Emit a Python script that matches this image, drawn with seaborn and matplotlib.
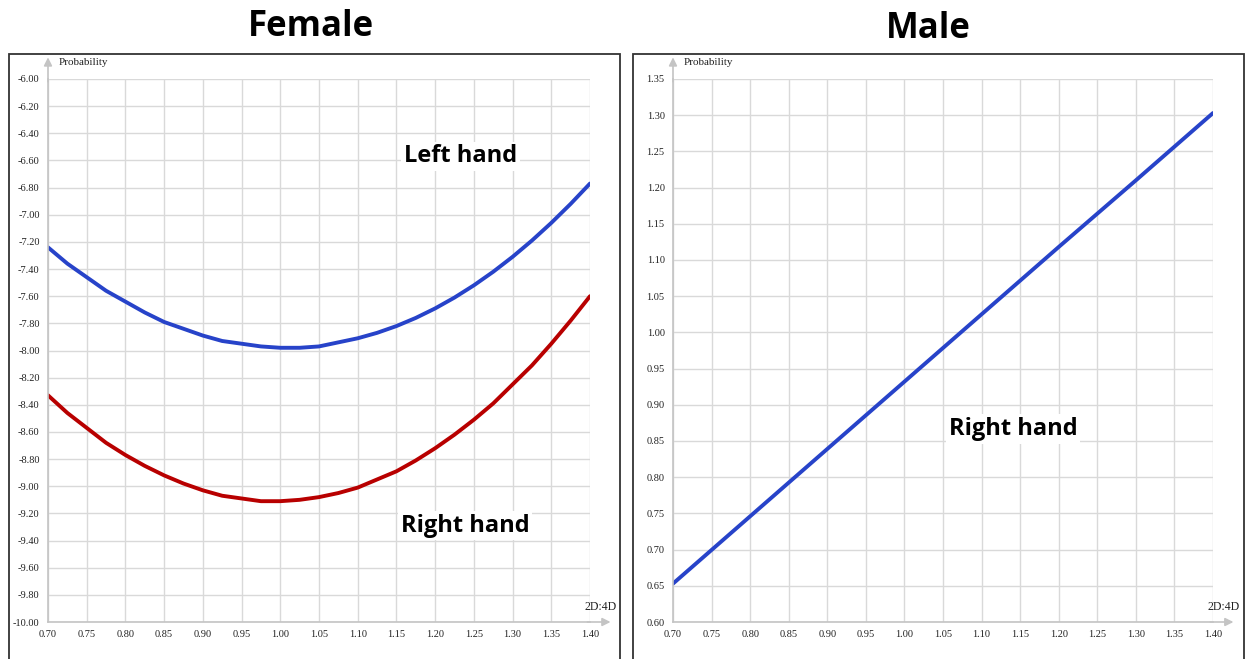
import matplotlib
matplotlib.use("Agg")
import matplotlib.pyplot as plt
import numpy as np
import pandas as pd
import seaborn as sns
from matplotlib.patches import Rectangle

# values
ratio = [0.700, 0.725, 0.750, 0.775, 0.800, 0.825, 0.850, 0.875, 0.900, 0.925,
         0.950, 0.975, 1.000, 1.025, 1.050, 1.075, 1.100, 1.125, 1.150, 1.175,
         1.200, 1.225, 1.250, 1.275, 1.300, 1.325, 1.350, 1.375, 1.400]
female_left = [-7.24, -7.36, -7.46, -7.56, -7.64, -7.72, -7.79, -7.84, -7.89, -7.93,
               -7.95, -7.97, -7.98, -7.98, -7.97, -7.94, -7.91, -7.87, -7.82, -7.76,
               -7.69, -7.61, -7.52, -7.42, -7.31, -7.19, -7.06, -6.92, -6.77]
female_right = [-8.33, -8.46, -8.57, -8.68, -8.77, -8.85, -8.92, -8.98, -9.03, -9.07,
                -9.09, -9.11, -9.11, -9.10, -9.08, -9.05, -9.01, -8.95, -8.89, -8.81,
                -8.72, -8.62, -8.51, -8.39, -8.25, -8.11, -7.95, -7.78, -7.60]
male_ratio = [0.70, 0.80, 0.90, 1.00, 1.10, 1.20, 1.30, 1.40]
male_right = [0.653, 0.746, 0.839, 0.932, 1.025, 1.118, 1.210, 1.303]

x_ticks = [0.70, 0.75, 0.80, 0.85, 0.90, 0.95, 1.00, 1.05, 1.10, 1.15, 1.20, 1.25, 1.30, 1.35, 1.40]
female_yticks = np.round(np.arange(-10.0, -5.99, 0.2), 2)
male_yticks = np.round(np.arange(0.60, 1.351, 0.05), 2)

BLUE = "#2743c9"
RED = "#b80000"
GRID = "#d9d9d9"
AXIS = "#c4c4c4"

sns.set_style("white")
plt.rcParams["font.family"] = ["Liberation Serif", "DejaVu Serif"]

fig = plt.figure(figsize=(12.53, 6.59), dpi=100)
W, H = 1253, 659


def fx(px):
    return px / W


def fy(py):
    return 1 - py / H


def style_axes(ax, yticks, ylim):
    ax.set_xlim(0.70, 1.40)
    ax.set_ylim(*ylim)
    ax.set_xticks(x_ticks)
    ax.set_xticklabels([f"{v:.2f}" for v in x_ticks])
    ax.set_yticks(yticks)
    ax.set_yticklabels([f"{v:.2f}" for v in yticks])
    ax.grid(True, color=GRID, linewidth=1.0)
    ax.set_axisbelow(True)
    for side in ["top", "right"]:
        ax.spines[side].set_visible(False)
    for side in ["left", "bottom"]:
        ax.spines[side].set_color(AXIS)
        ax.spines[side].set_linewidth(1.2)
    ax.tick_params(axis="both", length=0, labelsize=7.5, colors="#222222", pad=6)
    ax.set_xlabel("")
    ax.set_ylabel("")
    # axis arrows
    ax.annotate("", xy=(0, 1.045), xytext=(0, 0.99), xycoords="axes fraction",
                arrowprops=dict(arrowstyle="-|>", color=AXIS, lw=1.2, mutation_scale=12),
                annotation_clip=False)
    ax.annotate("", xy=(1.043, 0), xytext=(0.99, 0), xycoords="axes fraction",
                arrowprops=dict(arrowstyle="-|>", color=AXIS, lw=1.2, mutation_scale=12),
                annotation_clip=False)
    ax.text(0.02, 1.03, "Probability", transform=ax.transAxes, fontsize=8,
            ha="left", va="center", color="#222222")
    ax.text(1.02, 0.028, "2D:4D", transform=ax.transAxes, fontsize=8.5,
            ha="center", va="center", color="#222222")


label_kw = dict(fontsize=17, fontweight="bold", family=["Open Sans", "DejaVu Sans"],
                ha="center", va="center", color="black",
                bbox=dict(facecolor="white", edgecolor="none", pad=2))

# Female panel
ax1 = fig.add_axes([fx(48), fy(622), fx(590) - fx(48), fy(79) - fy(622)])
df_f = pd.DataFrame({"ratio": ratio * 2,
                     "prob": female_left + female_right,
                     "hand": ["Left hand"] * len(ratio) + ["Right hand"] * len(ratio)})
sns.lineplot(data=df_f, x="ratio", y="prob", hue="hand", palette=[BLUE, RED],
             linewidth=2.8, legend=False, ax=ax1, solid_joinstyle="round")
style_axes(ax1, female_yticks, (-10.0, -6.0))
ax1.text(1.233, -6.57, "Left hand", **label_kw)
ax1.text(1.239, -9.29, "Right hand", **label_kw)

# Male panel
ax2 = fig.add_axes([fx(673), fy(622), fx(1213) - fx(673), fy(79) - fy(622)])
df_m = pd.DataFrame({"ratio": male_ratio, "prob": male_right})
sns.lineplot(data=df_m, x="ratio", y="prob", color=BLUE, linewidth=2.8,
             ax=ax2, solid_joinstyle="round")
style_axes(ax2, male_yticks, (0.60, 1.35))
ax2.text(1.141, 0.867, "Right hand", **label_kw)

# panel frames and titles
for left, right in [(9, 620), (633, 1244)]:
    fig.patches.append(Rectangle((fx(left), fy(700)), fx(right) - fx(left), fy(54) - fy(700),
                                 transform=fig.transFigure, fill=False,
                                 edgecolor="#333333", linewidth=1.3))
title_kw = dict(fontsize=25, fontweight="bold", family=["Open Sans", "DejaVu Sans"],
                ha="center", va="center", color="black")
fig.text(fx(311), fy(27), "Female", **title_kw)
fig.text(fx(928), fy(29), "Male", **title_kw)

fig.savefig("out.png", dpi=100)
